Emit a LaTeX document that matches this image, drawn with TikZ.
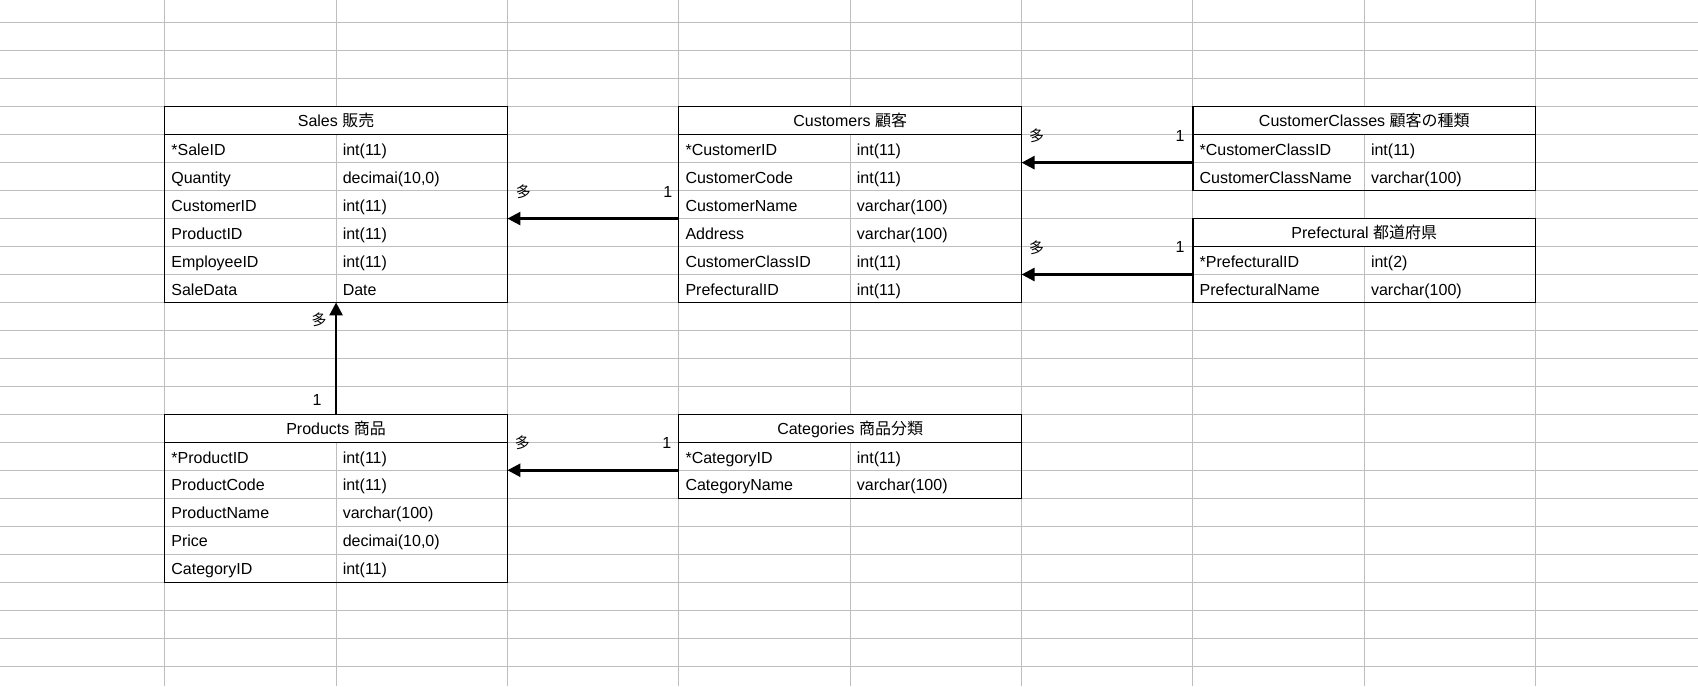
\documentclass[tikz,border=0pt]{standalone}
\usepackage{fontspec}
\setmainfont{Liberation Sans}
\newfontfamily\cjk{Noto Sans CJK JP}
\usetikzlibrary{arrows.meta,fit}

\definecolor{gridgray}{RGB}{190,190,190}

\tikzset{
  txt/.style={font=\fontsize{16}{16}\selectfont, text height=11.5pt, text depth=0pt},
  cell/.style={inner sep=0pt, outer sep=0pt, minimum width=342.75pt,
               minimum height=27.965pt, anchor=north west},
  head/.style={cell, txt, fill=white},
  ftext/.style={txt, anchor=west, inner sep=0pt},
  border/.style={draw=black, line width=1.1pt, inner sep=0pt, outer sep=0pt},
  rel/.style={line width=2.7pt, -{Triangle[length=13pt,width=13pt]}},
  card/.style={inner sep=0pt, font=\fontsize{16}{16}\selectfont},
  cardj/.style={inner sep=0pt, font=\fontsize{15}{15}\selectfont\cjk},
}

% \ertable{name}{column}{row}{number of fields}{title}{name/type list}
\newcommand\ertable[6]{%
  \node[head] (#1-h) at ({164.7+171.375*#2},{106.7+27.965*#3}) {#5};
  \foreach \fn/\ft [count=\i] in {#6} {
    \node[cell] (#1-f\i) at ({164.7+171.375*#2},{106.7+27.965*(#3+\i)}) {};
    \node[ftext] at ([xshift=6.5pt,yshift=-1pt]#1-f\i.west) {\fn};
    \node[ftext] at ([xshift=6.5pt,yshift=-1pt]#1-f\i.center) {\ft};
  }
  \node[border, fit=(#1-h)(#1-f#4)] (#1) {};
  \draw[line width=1.1pt] (#1-h.south west) -- (#1-h.south east);
}

\begin{document}
\begin{tikzpicture}[x=1pt,y=-1pt]
  \useasboundingbox (0,0) rectangle (1698,686);
  \fill[white] (0,0) rectangle (1698,686);

  % spreadsheet grid
  \foreach \c in {0,...,8}
    \draw[gridgray, line width=1pt] ({164.7+171.375*\c},0) -- ({164.7+171.375*\c},686);
  \foreach \r in {-3,...,20}
    \draw[gridgray, line width=1pt] (0,{106.7+27.965*\r}) -- (1698,{106.7+27.965*\r});

  % tables
  \ertable{sales}{0}{0}{6}{Sales {\cjk 販売}}{
    *SaleID/int(11), Quantity/{decimai(10,0)}, CustomerID/int(11),
    ProductID/int(11), EmployeeID/int(11), SaleData/Date}
  \ertable{cust}{3}{0}{6}{Customers {\cjk 顧客}}{
    *CustomerID/int(11), CustomerCode/int(11), CustomerName/varchar(100),
    Address/varchar(100), CustomerClassID/int(11), PrefecturalID/int(11)}
  \ertable{cc}{6}{0}{2}{CustomerClasses {\cjk 顧客の種類}}{
    *CustomerClassID/int(11), CustomerClassName/varchar(100)}
  \ertable{pref}{6}{4}{2}{Prefectural {\cjk 都道府県}}{
    *PrefecturalID/int(2), PrefecturalName/varchar(100)}
  \ertable{prod}{0}{11}{5}{Products {\cjk 商品}}{
    *ProductID/int(11), ProductCode/int(11), ProductName/varchar(100),
    Price/{decimai(10,0)}, CategoryID/int(11)}
  \ertable{cat}{3}{11}{2}{Categories {\cjk 商品分類}}{
    *CategoryID/int(11), CategoryName/varchar(100)}

  % relationships
  \draw[rel] (cust-f3.south west) -- (sales-f3.south east);
  \draw[rel] (cc-f1.south west) -- (cust-f1.south east);
  \draw[rel] (pref-f1.south west) -- (cust-f5.south east);
  \draw[rel] (cat-f1.south west) -- (prod-f1.south east);
  \draw[rel] (prod-h.north) -- (sales.south);

  % cardinalities
  \node[cardj] (m1) at ([xshift=16pt,yshift=27pt]sales-f3.south east) {多};
  \node[card]  (o1) at ([xshift=-11pt,yshift=27pt]cust-f3.south west) {1};
  \node[cardj] (m2) at ([xshift=15pt,yshift=27pt]cust-f1.south east) {多};
  \node[card]  (o2) at ([xshift=-13pt,yshift=27pt]cc-f1.south west) {1};
  \node[cardj] (m3) at ([xshift=15pt,yshift=27pt]cust-f5.south east) {多};
  \node[card]  (o3) at ([xshift=-13pt,yshift=27pt]pref-f1.south west) {1};
  \node[cardj] (m4) at ([xshift=15pt,yshift=27pt]prod-f1.south east) {多};
  \node[card]  (o4) at ([xshift=-12pt,yshift=27pt]cat-f1.south west) {1};
  \node[cardj] (m5) at ([xshift=-17pt,yshift=-17pt]sales.south) {多};
  \node[card]  (o5) at ([xshift=-19pt,yshift=14pt]prod-h.north) {1};
\end{tikzpicture}
\end{document}
